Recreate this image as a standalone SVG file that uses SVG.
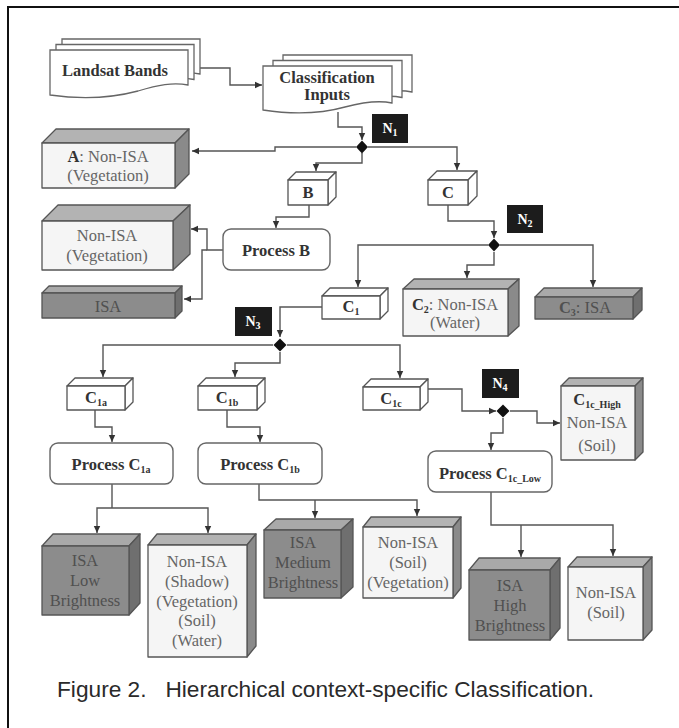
<svg xmlns="http://www.w3.org/2000/svg" width="679" height="728" viewBox="0 0 679 728">
<defs>
<marker id="ah" markerWidth="8" markerHeight="8" refX="7" refY="4" orient="auto" markerUnits="userSpaceOnUse">
<path d="M0,0.8 L7,4 L0,7.2 Z" fill="#333"/>
</marker>
<style>
.bx{stroke:#555;stroke-width:1.3;stroke-linejoin:round}
.wf{fill:#fff}
.lf{fill:#f5f5f5}.lt{fill:#b3b3b3}.ls{fill:#8a8a8a}
.df{fill:#8c8c8c}.dt{fill:#a9a9a9}.ds{fill:#6f6f6f}
.doc{fill:#fff;stroke:#666;stroke-width:1.3}
.pr{fill:#fff;stroke:#666;stroke-width:1.4}
.nb{fill:#1c1c1c}
.dia{fill:#111}
.t{font-family:"Liberation Serif","Times New Roman",serif;font-size:16.5px;text-anchor:middle}
.b{font-weight:bold;fill:#333}
.g{fill:#666}
.gd{fill:#505050}
.nt{font-family:"Liberation Serif",serif;font-size:14px;font-weight:bold;fill:#fff;text-anchor:middle}
.s{font-size:10px}
.cn{fill:none;stroke:#555;stroke-width:1.4;marker-end:url(#ah)}
.cl{fill:none;stroke:#555;stroke-width:1.4}
</style>
</defs>
<path d="M8,728 V7 H679" fill="none" stroke="#111" stroke-width="2"/>

<g id="connectors">
<polyline class="cn" points="199,68 230,68 230,85 262,85"/>
<polyline class="cn" points="338,112 338,127 362,127 362,140"/>
<polyline class="cn" points="356,147 275,147 275,151 192,151"/>
<polyline class="cn" points="368,147 457,147 457,170"/>
<polyline class="cn" points="362,153 362,163 316,163 316,171"/>
<polyline class="cn" points="309,205 309,217 276,217 276,228"/>
<polyline class="cn" points="448,205 448,221 494,221 494,238"/>
<polyline class="cn" points="488,245 358,245 358,287"/>
<polyline class="cn" points="500,245 593,245 593,287"/>
<polyline class="cn" points="494,252 494,265 467,265 467,278"/>
<polyline class="cn" points="223,250 207,250 207,229 191,229"/>
<polyline class="cn" points="207,250 202,250 202,299 184,299"/>
<polyline class="cn" points="322,307 280,307 280,337"/>
<polyline class="cn" points="273,345 103,345 103,377"/>
<polyline class="cn" points="287,345 400,345 400,378"/>
<polyline class="cn" points="280,352 280,363 235,363 235,377"/>
<polyline class="cn" points="95,410 95,427 112,427 112,442"/>
<polyline class="cn" points="227,410 227,427 260,427 260,442"/>
<polyline class="cl" points="112,484 112,508"/>
<polyline class="cn" points="112,508 97,508 97,533"/>
<polyline class="cn" points="112,508 208,508 208,533"/>
<polyline class="cn" points="259,484 259,500 417,500 417,516"/>
<polyline class="cn" points="315,500 315,518"/>
<polyline class="cn" points="428,389 462,389 462,411 496,411"/>
<polyline class="cn" points="510,411 537,411 537,423 560,423"/>
<polyline class="cn" points="503,418 503,433 491,433 491,450"/>
<polyline class="cn" points="491,492 491,525 613,525 613,556"/>
<polyline class="cn" points="521,525 521,557"/>
</g>

<g id="landsat">
<path class="doc" d="M62,39 H200 V74 C185,71 170,74 150,80 C120,88 90,88 62,84 Z"/>
<path class="doc" d="M56,44.5 H194 V79.5 C179,76.5 164,79.5 144,85.5 C114,93.5 84,93.5 56,89.5 Z"/>
<path class="doc" d="M50,50 H188 V85 C173,82 158,85 138,91 C108,99 78,99 50,95 Z"/>
<text class="t b" x="115" y="76">Landsat Bands</text>
</g>

<g id="classinputs">
<path class="doc" d="M283,55 H412 V92 C398,89 380,92 365,96 C340,103 315,104 283,99 Z"/>
<path class="doc" d="M273,60.5 H402 V97.5 C388,94.5 370,97.5 355,101.5 C330,108.5 305,109.5 273,104.5 Z"/>
<path class="doc" d="M263,66 H392 V103 C378,100 360,103 345,107 C320,114 295,115 263,110 Z"/>
<text class="t b" x="327" y="82.5">Classification</text>
<text class="t b" x="327" y="100">Inputs</text>
</g>

<g id="n1">
<rect class="nb" x="372" y="114" width="36" height="29"/>
<text class="nt" x="390" y="133">N<tspan class="s" dy="3">1</tspan></text>
<polygon class="dia" points="362,140.5 368,147 362,153.5 356,147"/>
</g>

<g id="nodeA">
<polygon class="bx lt" points="42,143 56,129 189,129 175,143"/>
<polygon class="bx ls" points="175,143 189,129 189,174 175,188"/>
<rect class="bx lf" x="42" y="143" width="133" height="45"/>
<text class="t g" x="108" y="162"><tspan class="b">A</tspan>: Non-ISA</text>
<text class="t g" x="108" y="181">(Vegetation)</text>
</g>

<g id="nodeB">
<polygon class="bx wf" points="288,180 296,172 336,172 328,180"/>
<polygon class="bx wf" points="328,180 336,172 336,197 328,205"/>
<rect class="bx wf" x="288" y="180" width="40" height="25"/>
<text class="t b" x="308" y="198">B</text>
</g>

<g id="nodeC">
<polygon class="bx wf" points="428,180 437,171 477,171 468,180"/>
<polygon class="bx wf" points="468,180 477,171 477,196 468,205"/>
<rect class="bx wf" x="428" y="180" width="40" height="25"/>
<text class="t b" x="448" y="198">C</text>
</g>

<g id="processB">
<rect class="pr" x="223" y="229" width="107" height="41" rx="8"/>
<text class="t b" x="276" y="256">Process B</text>
</g>

<g id="nonisaVeg">
<polygon class="bx lt" points="42,221 58,205 190,205 173,221"/>
<polygon class="bx ls" points="173,221 190,205 190,254 173,270"/>
<rect class="bx lf" x="42" y="221" width="131" height="49"/>
<text class="t g" x="107" y="241">Non-ISA</text>
<text class="t g" x="107" y="261">(Vegetation)</text>
</g>

<g id="isaB">
<polygon class="bx dt" points="42,293 49,286 182,286 175,293"/>
<polygon class="bx ds" points="175,293 182,286 182,311 175,318"/>
<rect class="bx df" x="42" y="293" width="133" height="25"/>
<text class="t gd" x="108" y="312">ISA</text>
</g>

<g id="n2">
<rect class="nb" x="507" y="205" width="36" height="28"/>
<text class="nt" x="525" y="224">N<tspan class="s" dy="3">2</tspan></text>
<polygon class="dia" points="494,238.5 500,245 494,251.5 488,245"/>
</g>

<g id="nodeC1">
<polygon class="bx wf" points="322,296 330,288 388,288 380,296"/>
<polygon class="bx wf" points="380,296 388,288 388,311 380,319"/>
<rect class="bx wf" x="322" y="296" width="58" height="23"/>
<text class="t b" x="351" y="312">C<tspan class="s" dy="3">1</tspan></text>
</g>

<g id="nodeC2">
<polygon class="bx lt" points="403,289 414,279 519,279 508,289"/>
<polygon class="bx ls" points="508,289 519,279 519,326 508,336"/>
<rect class="bx lf" x="403" y="289" width="105" height="47"/>
<text class="t g" x="455" y="310"><tspan class="b">C<tspan class="s" dy="3">2</tspan></tspan><tspan dy="-3">: Non-ISA</tspan></text>
<text class="t g" x="455" y="328">(Water)</text>
</g>

<g id="nodeC3">
<polygon class="bx dt" points="535,297 544,288 642,288 633,297"/>
<polygon class="bx ds" points="633,297 642,288 642,310 633,319"/>
<rect class="bx df" x="535" y="297" width="98" height="22"/>
<text class="t gd" x="585" y="313"><tspan font-weight="bold">C<tspan class="s" dy="3">3</tspan></tspan><tspan dy="-3">: ISA</tspan></text>
</g>

<g id="n3">
<rect class="nb" x="235" y="307" width="37" height="29"/>
<text class="nt" x="253" y="326">N<tspan class="s" dy="3">3</tspan></text>
<polygon class="dia" points="280,338.5 286.5,345 280,351.5 273.5,345"/>
</g>

<g id="nodeC1a">
<polygon class="bx wf" points="67,386 75,378 133,378 125,386"/>
<polygon class="bx wf" points="125,386 133,378 133,402 125,410"/>
<rect class="bx wf" x="67" y="386" width="58" height="24"/>
<text class="t b" x="96" y="403">C<tspan class="s" dy="3">1a</tspan></text>
</g>

<g id="nodeC1b">
<polygon class="bx wf" points="198,386 206,378 265,378 257,386"/>
<polygon class="bx wf" points="257,386 265,378 265,402 257,410"/>
<rect class="bx wf" x="198" y="386" width="59" height="24"/>
<text class="t b" x="227" y="403">C<tspan class="s" dy="3">1b</tspan></text>
</g>

<g id="nodeC1c">
<polygon class="bx wf" points="363,387 371,379 428,379 420,387"/>
<polygon class="bx wf" points="420,387 428,379 428,402 420,410"/>
<rect class="bx wf" x="363" y="387" width="57" height="23"/>
<text class="t b" x="391" y="404">C<tspan class="s" dy="3">1c</tspan></text>
</g>

<g id="n4">
<rect class="nb" x="482" y="369" width="37" height="29"/>
<text class="nt" x="500" y="388">N<tspan class="s" dy="3">4</tspan></text>
<polygon class="dia" points="503,404.5 509.5,411 503,417.5 496.5,411"/>
</g>

<g id="nodeC1cHigh">
<polygon class="bx lt" points="561,386 569,378 643,378 635,386"/>
<polygon class="bx ls" points="635,386 643,378 643,452 635,460"/>
<rect class="bx lf" x="561" y="386" width="74" height="74"/>
<text class="t g" x="597" y="405"><tspan class="b">C<tspan class="s" dy="3">1c_High</tspan></tspan></text>
<text class="t g" x="597" y="428">Non-ISA</text>
<text class="t g" x="597" y="451">(Soil)</text>
</g>

<g id="processC1a">
<rect class="pr" x="50" y="443" width="123" height="41" rx="8"/>
<text class="t b" x="111" y="470">Process C<tspan class="s" dy="3">1a</tspan></text>
</g>

<g id="processC1b">
<rect class="pr" x="198" y="443" width="124" height="41" rx="8"/>
<text class="t b" x="260" y="470">Process C<tspan class="s" dy="3">1b</tspan></text>
</g>

<g id="processC1cLow">
<rect class="pr" x="428" y="451" width="124" height="41" rx="8"/>
<text class="t b" x="490" y="479">Process C<tspan class="s" dy="3">1c_Low</tspan></text>
</g>

<g id="isaLow">
<polygon class="bx dt" points="42,546 53,534 140,534 129,546"/>
<polygon class="bx ds" points="129,546 140,534 140,603 129,615"/>
<rect class="bx df" x="42" y="546" width="87" height="69"/>
<text class="t gd" x="85" y="566">ISA</text>
<text class="t gd" x="85" y="586">Low</text>
<text class="t gd" x="85" y="606">Brightness</text>
</g>

<g id="nonisaShadow">
<polygon class="bx lt" points="148,545 157,534 256,534 247,545"/>
<polygon class="bx ls" points="247,545 256,534 256,646 247,657"/>
<rect class="bx lf" x="148" y="545" width="99" height="112"/>
<text class="t g" x="197" y="567">Non-ISA</text>
<text class="t g" x="197" y="587">(Shadow)</text>
<text class="t g" x="197" y="607">(Vegetation)</text>
<text class="t g" x="197" y="626">(Soil)</text>
<text class="t g" x="197" y="646">(Water)</text>
</g>

<g id="isaMedium">
<polygon class="bx dt" points="264,530 276,519 353,519 341,530"/>
<polygon class="bx ds" points="341,530 353,519 353,587 341,598"/>
<rect class="bx df" x="264" y="530" width="77" height="68"/>
<text class="t gd" x="303" y="548">ISA</text>
<text class="t gd" x="303" y="568">Medium</text>
<text class="t gd" x="303" y="588">Brightness</text>
</g>

<g id="nonisaSoilVeg">
<polygon class="bx lt" points="363,527 371,517 461,517 453,527"/>
<polygon class="bx ls" points="453,527 461,517 461,588 453,598"/>
<rect class="bx lf" x="363" y="527" width="90" height="71"/>
<text class="t g" x="408" y="548">Non-ISA</text>
<text class="t g" x="408" y="568">(Soil)</text>
<text class="t g" x="408" y="588">(Vegetation)</text>
</g>

<g id="isaHigh">
<polygon class="bx dt" points="469,570 479,558 560,558 550,570"/>
<polygon class="bx ds" points="550,570 560,558 560,628 550,640"/>
<rect class="bx df" x="469" y="570" width="81" height="70"/>
<text class="t gd" x="510" y="591">ISA</text>
<text class="t gd" x="510" y="611">High</text>
<text class="t gd" x="510" y="631">Brightness</text>
</g>

<g id="nonisaSoil">
<polygon class="bx lt" points="568,567 577,557 652,557 643,567"/>
<polygon class="bx ls" points="643,567 652,557 652,630 643,640"/>
<rect class="bx lf" x="568" y="567" width="75" height="73"/>
<text class="t g" x="606" y="598">Non-ISA</text>
<text class="t g" x="606" y="618">(Soil)</text>
</g>

<text x="57" y="697" xml:space="preserve" font-family="Liberation Sans, Arial, sans-serif" font-size="22.7" fill="#2a2a2a">Figure 2.   Hierarchical context-specific Classification.</text>
</svg>
